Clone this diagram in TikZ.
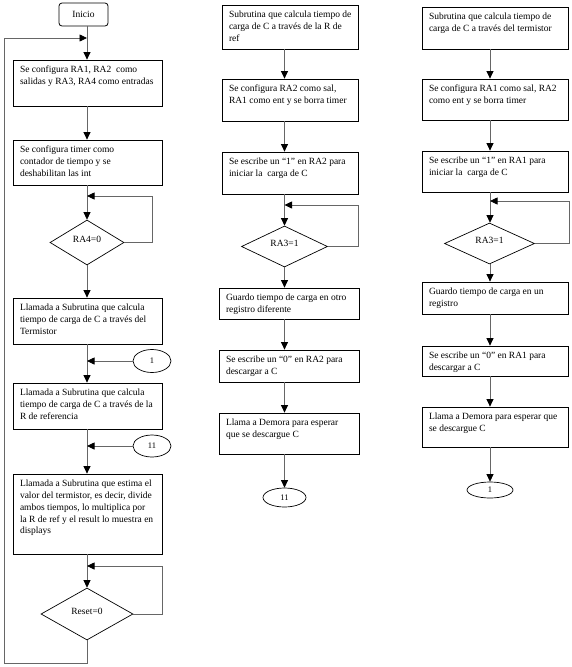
\documentclass[tikz,border=0pt]{standalone}
\usepackage{fontspec}
\setmainfont{Liberation Serif}
\usetikzlibrary{shapes.geometric,arrows.meta}
\newcommand\bt[3]{\parbox[c][#1][t]{#2}{\vspace*{4.8pt}\begin{tabular}[t]{@{}l@{}}#3\end{tabular}}}
\begin{document}
\begin{tikzpicture}[x=1pt,y=-1pt,
  every node/.style={font=\fontsize{9.5pt}{11.7pt}\selectfont},
  box/.style={draw, line width=0.8pt, inner xsep=7pt, inner ysep=0pt},
  startbox/.style={draw, line width=0.8pt, rounded corners=3pt, minimum width=49pt, minimum height=23pt, inner sep=0pt},
  decision/.style={draw, line width=0.7pt, diamond, inner sep=0pt, text height=0pt, text depth=0pt},
  conn/.style={draw, line width=0.7pt, ellipse, inner sep=0pt, font=\fontsize{8.5pt}{10pt}\selectfont},
  line/.style={draw=black!60, line width=0.8pt},
  arr/.style={line, -{Triangle[length=7.5pt,width=7pt,fill=black,color=black]}}
]
\useasboundingbox (0,0) rectangle (572,667);
% guide coordinates for the three flow lines
\coordinate (lx) at (87,0);
\coordinate (mx) at (284.5,0);
\coordinate (rx) at (490,0);

% ---------------- left column ----------------
\node[startbox] (ini) at (83.5,14.5) {Inicio};
\node[box] (L1) at (87.5,83) {\bt{46pt}{135pt}{Se configura RA1, RA2 \ como\\ salidas y RA3, RA4 como entradas}};
\node[box] (L2) at (87.5,162.5) {\bt{45pt}{135pt}{Se configura timer como\\ contador de tiempo y se\\ deshabilitan las int}};
\node[decision, minimum width=74pt, minimum height=45pt, aspect=1.64] (D1) at (87,242.5) {RA4=0};
\node[box] (L3) at (87.5,321) {\bt{46pt}{135pt}{Llamada a Subrutina que calcula\\ tiempo de carga de C a través del\\ Termistor}};
\node[conn, minimum width=38pt, minimum height=23pt] (E1) at (152,361) {1};
\node[box] (L4) at (87.5,406) {\bt{46pt}{135pt}{Llamada a Subrutina que calcula\\ tiempo de carga de C a través de la\\ R de referencia}};
\node[conn, minimum width=38pt, minimum height=22pt] (E2) at (152,446) {11};
\node[box] (L5) at (87.5,514) {\bt{80pt}{135pt}{Llamada a Subrutina que estima el\\ valor del termistor, es decir, divide\\ ambos tiempos, lo multiplica por\\ la R de ref y el result lo muestra en\\ displays}};
\node[decision, minimum width=92pt, minimum height=52pt, aspect=1.77] (D2) at (87,614) {Reset=0};

\coordinate (j0) at (87,38);
\coordinate (ret1) at (87,663);
\coordinate (ret2) at (4,663);
\coordinate (ret3) at (4,38);
\coordinate (d1r) at (152,196);
\coordinate (d1j) at (87,196);
\coordinate (d2r) at (162,566);
\coordinate (d2j) at (87,566);
\coordinate (e1j) at (87,361);
\coordinate (e2j) at (87,446);

\draw[arr] (ini.south -| lx) -- (L1.north -| lx);
\draw[arr] (L1.south -| lx) -- (L2.north -| lx);
\draw[arr] (L2.south -| lx) -- (D1.north);
\draw[arr] (D1.east) -| (d1r) -- (d1j);
\draw[arr] (D1.south) -- (L3.north -| lx);
\draw[arr] (L3.south -| lx) -- (L4.north -| lx);
\draw[arr] (E1.west) -- (e1j);
\draw[arr] (L4.south -| lx) -- (L5.north -| lx);
\draw[arr] (E2.west) -- (e2j);
\draw[arr] (L5.south -| lx) -- (D2.north);
\draw[arr] (D2.east) -| (d2r) -- (d2j);
\draw[arr] (D2.south) -- (ret1) -- (ret2) -- (ret3) -- (j0);

% ---------------- middle column ----------------
\node[box] (M1) at (290,27) {\bt{44pt}{122pt}{Subrutina que calcula tiempo de\\ carga de C a través de la R de\\ ref}};
\node[box] (M2) at (290,100) {\bt{42pt}{122pt}{Se configura RA2 como sal,\\ RA1 como ent y se borra timer}};
\node[box] (M3) at (290,173) {\bt{42pt}{122pt}{Se escribe un “1” en RA2 para\\ iniciar la \ carga de C}};
\node[decision, minimum width=86pt, minimum height=41pt, aspect=2.1] (D3) at (284.5,246.5) {RA3=1};
\node[box] (M4) at (289,303.5) {\bt{31pt}{126pt}{Guardo tiempo de carga en otro\\ registro diferente}};
\node[box] (M5) at (289,366) {\bt{32pt}{126pt}{Se escribe un “0” en RA2 para\\ descargar a C}};
\node[box] (M6) at (289,433.5) {\bt{41pt}{126pt}{Llama a Demora para esperar\\ que se descargue C}};
\node[conn, minimum width=43pt, minimum height=19pt] (E3) at (284.5,497.5) {11};

\coordinate (d3r) at (358,205);
\coordinate (d3j) at (284.5,205);

\draw[arr] (M1.south -| mx) -- (M2.north -| mx);
\draw[arr] (M2.south -| mx) -- (M3.north -| mx);
\draw[arr] (M3.south -| mx) -- (D3.north);
\draw[arr] (D3.east) -| (d3r) -- (d3j);
\draw[arr] (D3.south) -- (M4.north -| mx);
\draw[arr] (M4.south -| mx) -- (M5.north -| mx);
\draw[arr] (M5.south -| mx) -- (M6.north -| mx);
\draw[arr] (M6.south -| mx) -- (E3.north);

% ---------------- right column ----------------
\node[box] (R1) at (495,28) {\bt{42pt}{132pt}{Subrutina que calcula tiempo de\\ carga de C a través del termistor}};
\node[box] (R2) at (495,99.5) {\bt{41pt}{132pt}{Se configura RA1 como sal, RA2\\ como ent y se borra timer}};
\node[box] (R3) at (495,171.5) {\bt{41pt}{132pt}{Se escribe un “1” en RA1 para\\ iniciar la \ carga de C}};
\node[decision, minimum width=90pt, minimum height=41pt, aspect=2.2] (D4) at (489.5,243.5) {RA3=1};
\node[box] (R4) at (495,298) {\bt{32pt}{132pt}{Guardo tiempo de carga en un\\ registro}};
\node[box] (R5) at (495,361) {\bt{30pt}{132pt}{Se escribe un “0” en RA1 para\\ descargar a C}};
\node[box] (R6) at (495,427) {\bt{40pt}{132pt}{Llama a Demora para esperar que\\ se descargue C}};
\node[conn, minimum width=46pt, minimum height=16pt] (E4) at (490,490) {1};

\coordinate (d4r) at (569,201);
\coordinate (d4j) at (490,201);

\draw[arr] (R1.south -| rx) -- (R2.north -| rx);
\draw[arr] (R2.south -| rx) -- (R3.north -| rx);
\draw[arr] (R3.south -| rx) -- (D4.north -| rx);
\draw[arr] (D4.east) -| (d4r) -- (d4j);
\draw[arr] (D4.south -| rx) -- (R4.north -| rx);
\draw[arr] (R4.south -| rx) -- (R5.north -| rx);
\draw[arr] (R5.south -| rx) -- (R6.north -| rx);
\draw[arr] (R6.south -| rx) -- (E4.north);
\end{tikzpicture}
\end{document}
